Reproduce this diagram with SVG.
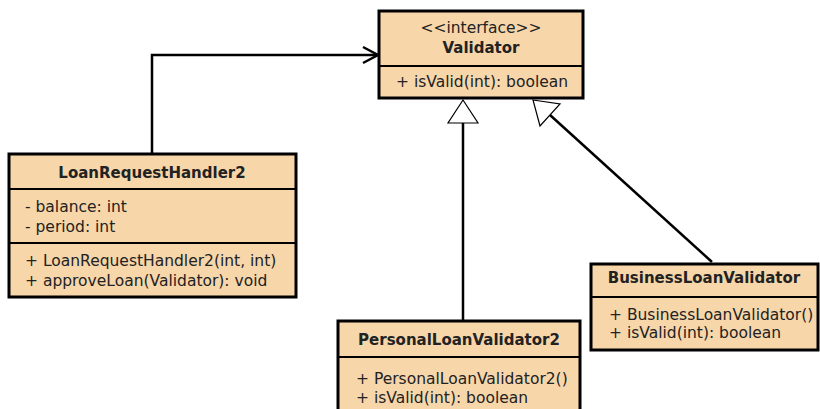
<svg xmlns="http://www.w3.org/2000/svg" width="820" height="409" viewBox="0 0 820 409">
<style>
.box{fill:#F7D6AA;stroke:#000;stroke-width:3}
.div{stroke:#000;stroke-width:2}
.t{font-family:"DejaVu Sans",Verdana,sans-serif;font-size:15.5px;fill:#222}
.b{font-weight:bold;font-size:15px;text-anchor:middle}
.c{text-anchor:middle}
.edge{fill:none;stroke:#000;stroke-width:2.5}
.tri{fill:#fff;stroke:#000;stroke-width:1.2}
</style>
<rect width="820" height="409" fill="#fff"/>
<g id="connectors">
<polyline class="edge" points="152,153 152,55 376,55"/>
<polyline points="363,47 378,55 363,63" fill="none" stroke="#000" stroke-width="2.5"/>
<line class="edge" x1="463" y1="320" x2="463" y2="123"/>
<polygon class="tri" points="463,100 448,123 478,123"/>
<line class="edge" x1="712" y1="262" x2="550" y2="115"/>
<polygon class="tri" points="533,100 560,104 540,126"/>
</g>
<g id="Validator">
<rect class="box" x="379" y="11" width="204" height="87"/>
<line class="div" x1="379" y1="66" x2="583" y2="66"/>
<text class="t c" x="481" y="33">&lt;&lt;interface&gt;&gt;</text>
<text class="t b" x="481" y="53">Validator</text>
<text class="t" x="396" y="87">+ isValid(int): boolean</text>
</g>
<g id="LoanRequestHandler2">
<rect class="box" x="9" y="154" width="287" height="143"/>
<line class="div" x1="9" y1="189" x2="296" y2="189"/>
<line class="div" x1="9" y1="243" x2="296" y2="243"/>
<text class="t b" x="152" y="178">LoanRequestHandler2</text>
<text class="t" x="25" y="212">- balance: int</text>
<text class="t" x="25" y="232">- period: int</text>
<text class="t" x="25" y="266">+ LoanRequestHandler2(int, int)</text>
<text class="t" x="25" y="286">+ approveLoan(Validator): void</text>
</g>
<g id="PersonalLoanValidator2">
<rect class="box" x="338" y="321" width="242" height="100"/>
<line class="div" x1="338" y1="357" x2="580" y2="357"/>
<text class="t b" x="459" y="345">PersonalLoanValidator2</text>
<text class="t" x="356" y="384">+ PersonalLoanValidator2()</text>
<text class="t" x="356" y="403">+ isValid(int): boolean</text>
</g>
<g id="BusinessLoanValidator">
<rect class="box" x="591" y="264" width="227" height="86"/>
<line class="div" x1="591" y1="297" x2="818" y2="297"/>
<text class="t b" x="704" y="283">BusinessLoanValidator</text>
<text class="t" x="609" y="320">+ BusinessLoanValidator()</text>
<text class="t" x="609" y="338">+ isValid(int): boolean</text>
</g>
</svg>
